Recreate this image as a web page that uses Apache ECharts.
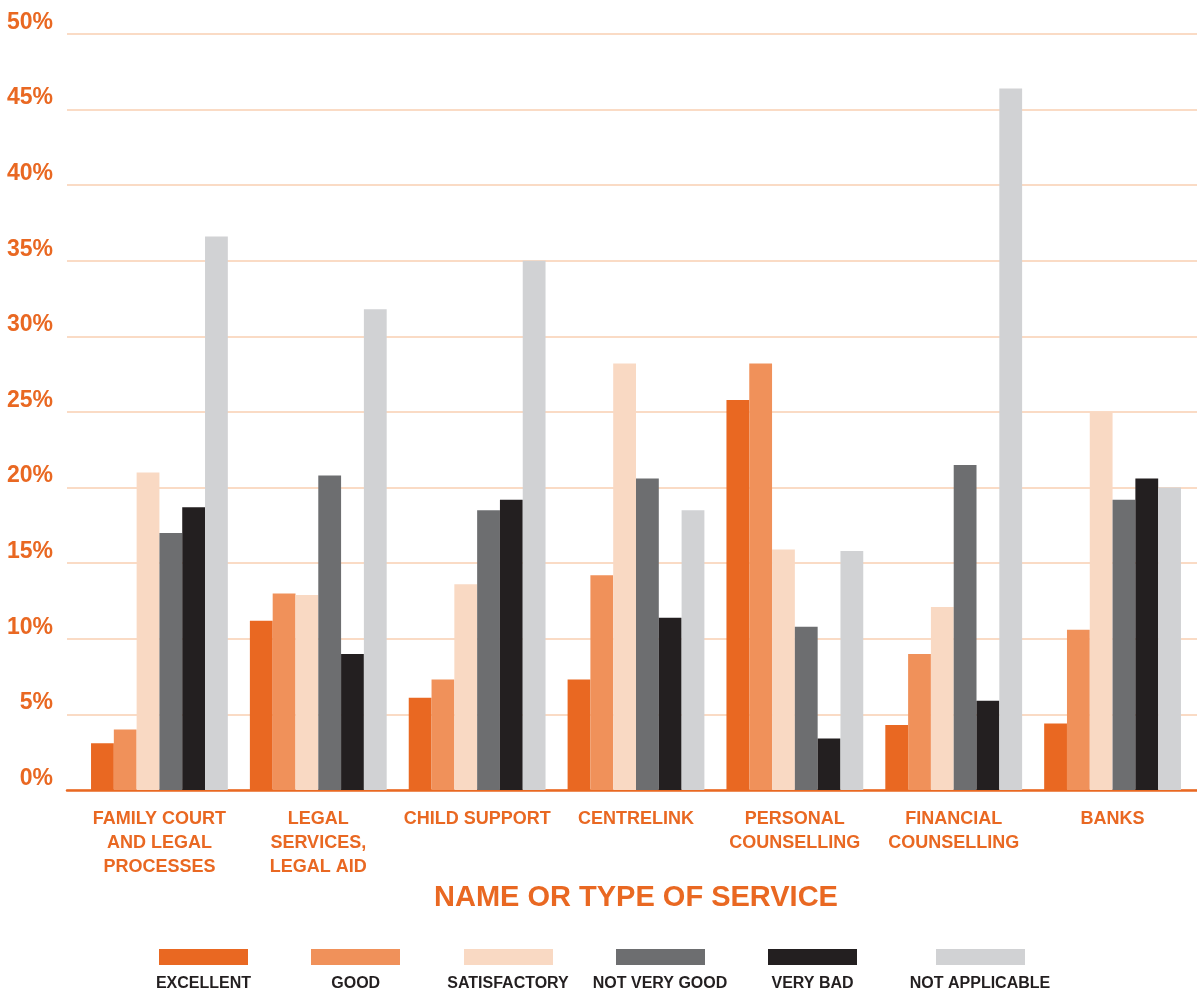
<!DOCTYPE html>
<html>
<head>
<meta charset="utf-8">
<style>
html,body{margin:0;padding:0;background:#fff;}
#chart{width:1197px;height:997px;}
</style>
<script src="https://cdn.jsdelivr.net/npm/echarts@6/dist/echarts.min.js"></script>
</head>
<body>
<div id="chart"></div>
<script>
const categories = ['FAMILY COURT\nAND LEGAL\nPROCESSES', 'LEGAL\nSERVICES,\nLEGAL AID', 'CHILD SUPPORT', 'CENTRELINK', 'PERSONAL\nCOUNSELLING', 'FINANCIAL\nCOUNSELLING', 'BANKS'];
const seriesNames = ['EXCELLENT', 'GOOD', 'SATISFACTORY', 'NOT VERY GOOD', 'VERY BAD', 'NOT APPLICABLE'];
const excellent = [3.1, 11.2, 6.1, 7.3, 25.8, 4.3, 4.4];
const good = [4.0, 13.0, 7.3, 14.2, 28.2, 9.0, 10.6];
const satisfactory = [21.0, 12.9, 13.6, 28.2, 15.9, 12.1, 25.0];
const notVeryGood = [17.0, 20.8, 18.5, 20.6, 10.8, 21.5, 19.2];
const veryBad = [18.7, 9.0, 19.2, 11.4, 3.4, 5.9, 20.6];
const notApplicable = [36.6, 31.8, 35.0, 18.5, 15.8, 46.4, 20.0];
const yTicks = [0, 5, 10, 15, 20, 25, 30, 35, 40, 45, 50];
const xTitle = 'NAME OR TYPE OF SERVICE';

const colors = ['#E96822', '#F0915A', '#F9D9C3', '#6D6E70', '#231F20', '#D1D2D4'];
const values = [excellent, good, satisfactory, notVeryGood, veryBad, notApplicable];
const orange = '#E96822';
const sans = "'Liberation Sans', Arial, sans-serif";

const legendLefts = [159, 311, 464, 616, 768, 936];
const legendCenters = [203.5, 355.7, 508, 660, 812.5, 980];

const chart = echarts.init(document.getElementById('chart'), null, {renderer: 'canvas'});
const option = {
  animation: false,
  backgroundColor: '#ffffff',
  grid: [
    {left: 67, right: 0, top: 34, bottom: 207},
    {left: 80, right: 5, top: 34, bottom: 207}
  ],
  xAxis: [
    {type: 'category', gridIndex: 0, data: categories, axisLabel: {show: false}, axisTick: {show: false},
     axisLine: {show: true, lineStyle: {color: orange, width: 2.5}}},
    {type: 'category', gridIndex: 1, data: categories, axisTick: {show: false}, axisLine: {show: false},
     axisLabel: {interval: 0, color: orange, fontFamily: sans, fontWeight: 'bold', fontSize: 18, lineHeight: 24, margin: 17, align: 'center'},
     name: xTitle, nameLocation: 'middle', nameGap: 91,
     nameTextStyle: {color: orange, fontFamily: sans, fontWeight: 'bold', fontSize: 29}}
  ],
  yAxis: [
    {type: 'value', gridIndex: 0, min: yTicks[0], max: yTicks[yTicks.length - 1], interval: 5,
     axisLine: {show: false}, axisTick: {show: false},
     splitLine: {show: true, lineStyle: {color: '#FADBC5', width: 2}},
     axisLabel: {formatter: '{value}%', color: orange, fontFamily: sans, fontWeight: 'bold', fontSize: 23, margin: 14, verticalAlign: 'bottom', padding: [0, 0, 0, 0]}},
    {type: 'value', gridIndex: 1, min: yTicks[0], max: yTicks[yTicks.length - 1], interval: 5, show: false}
  ],
  legend: seriesNames.map((n, i) => ({
    data: [n], left: legendLefts[i], top: 949, padding: 0, itemWidth: 89, itemHeight: 16,
    icon: 'rect', selectedMode: false, formatter: function () { return ''; }, itemGap: 0
  })),
  graphic: seriesNames.map((n, i) => ({
    type: 'text', x: legendCenters[i], y: 984,
    style: {text: n, fill: '#231F20', font: "bold 16px 'Liberation Sans', Arial, sans-serif", textAlign: 'center', textVerticalAlign: 'middle'}
  })),
  series: seriesNames.map((n, i) => ({
    name: n, type: 'bar', xAxisIndex: 1, yAxisIndex: 1, data: values[i],
    barWidth: 22.8, barGap: '0%', itemStyle: {color: colors[i]}
  }))
};
chart.setOption(option);
</script>
</body>
</html>
